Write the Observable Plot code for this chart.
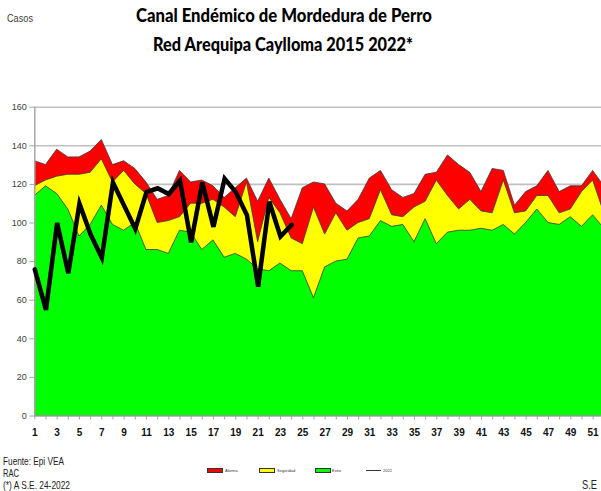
<!DOCTYPE html>
<html>
<head>
<meta charset="utf-8">
<script src="https://cdn.jsdelivr.net/npm/d3@7"></script>
<script src="https://cdn.jsdelivr.net/npm/@observablehq/plot@0.6"></script>
<style>
  html, body { margin: 0; padding: 0; background: #fff; }
  #root { position: relative; width: 601px; height: 491px; overflow: hidden; background: #fff; }
  .txt { position: absolute; white-space: nowrap; display: inline-block; line-height: 1; transform-origin: 0 0; }
  .ttl { font-family: Lato, "Open Sans", sans-serif; font-weight: 900; font-size: 19px; color: #000; }
  .small { font-family: "Liberation Sans", Arial, sans-serif; color: #222; }
  .sw { position: absolute; width: 14px; height: 3px; border: 1px solid #333; }
  .lg { position: absolute; font-family: "Liberation Sans", Arial, sans-serif; font-size: 4px; color: #333; line-height: 1; white-space: nowrap; }
  #chart { position: absolute; left: 0; top: 58px; }
</style>
</head>
<body>
<div id="root">
  <span class="txt small" id="casos" style="font-size:10.5px;color:#404040;">Casos</span>
  <span class="txt ttl" id="t1">Canal Endémico de Mordedura de Perro</span>
  <span class="txt ttl" id="t2">Red Arequipa Caylloma 2015 2022*</span>
  <div id="chart"></div>
  <span class="txt small" id="f1" style="font-size:11px;">Fuente: Epi VEA</span>
  <span class="txt small" id="f2" style="font-size:11px;">RAC</span>
  <span class="txt small" id="f3" style="font-size:11px;">(*) A S.E. 24-2022</span>
  <span class="txt small" id="se" style="font-size:12px;">S.E</span>
  <div class="sw" style="left:207px;top:468px;background:#ff0000;"></div>
  <span class="lg" style="left:225px;top:468.5px;">Alarma</span>
  <div class="sw" style="left:259px;top:468px;background:#ffff00;"></div>
  <span class="lg" style="left:277px;top:468.5px;">Seguridad</span>
  <div class="sw" style="left:315px;top:468px;background:#00ff00;"></div>
  <span class="lg" style="left:332px;top:468.5px;">Exito</span>
  <div style="position:absolute;left:366px;top:469.5px;width:15px;height:1.5px;background:#333;"></div>
  <span class="lg" style="left:383px;top:468.5px;">2022</span>
</div>
<script>
// ---- data (semana epidemiológica) ----
const weeks = [1,2,3,4,5,6,7,8,9,10,11,12,13,14,15,16,17,18,19,20,21,22,23,24,25,26,
               27,28,29,30,31,32,33,34,35,36,37,38,39,40,41,42,43,44,45,46,47,48,49,50,51,52];
// upper limit of each zone (cumulative)
const alarma = [132,130,138,134,134,137,143,130,132,128,121,112,114,127,121,122,119,113,118,123,111,123,112,102,118,121,
                120,110,106,112,123,127,117,113,115,125,126,135,130,126,116,128,127,109,116,119,127,116,119,119,127,119];
const seguridad = [119,122,124,125,125,126,133,121,127,120,115,100,101,103,110,110,112,108,103,121,90,113,105,92,89,108,
                   94,105,96,100,102,117,104,103,108,111,122,114,107,112,106,105,122,105,106,114,114,105,107,116,122,105];
const exito = [114,119,115,107,93,99,109,99,96,100,86,86,84,96,95,86,91,82,84,81,76,75,79,75,75,61,
               77,80,81,92,93,101,98,99,90,102,89,95,96,96,97,96,99,94,100,107,100,99,103,98,104,97];
// 2022 cases, weeks 1-24
const weeks2022 = [1,2,3,4,5,6,7,8,9,10,11,12,13,14,15,16,17,18,19,20,21,22,23,24];
const casos2022 = [76,55,100,74,110,94,82,121,109,97,116,118,115,122,90,121,98,123,116,104,67,111,93,99];
// axis ticks
const yTicks = [0,20,40,60,80,100,120,140,160];
const xTicks = [1,2,3,4,5,6,7,8,9,10,11,12,13,14,15,16,17,18,19,20,21,22,23,24,25,26,
                27,28,29,30,31,32,33,34,35,36,37,38,39,40,41,42,43,44,45,46,47,48,49,50,51];
const xLabels = [1,3,5,7,9,11,13,15,17,19,21,23,25,27,29,31,33,35,37,39,41,43,45,47,49,51];

const rows = weeks.map((w, i) => ({week: w, alarma: alarma[i], seguridad: seguridad[i], exito: exito[i]}));
const rows2022 = weeks2022.map((w, i) => ({week: w, casos: casos2022[i]}));

const outline = "#3a3a3a";
const chart = Plot.plot({
  width: 601,
  height: 392,
  marginTop: 48.7,
  marginBottom: 34.5,
  marginLeft: 34.3,
  marginRight: 0,
  x: {domain: [1, 51.75]},
  y: {domain: [0, 160]},
  style: {background: "transparent", fontFamily: "'Liberation Sans', Arial, sans-serif", overflow: "visible"},
  marks: [
    Plot.gridY(yTicks.filter(d => d > 0), {stroke: "#c0c0c0", strokeWidth: 1.6, strokeOpacity: 1}),
    Plot.areaY(rows, {x: "week", y1: 0, y2: "alarma", fill: "#ff0000", stroke: outline, strokeWidth: 0.8, clip: true}),
    Plot.areaY(rows, {x: "week", y1: 0, y2: "seguridad", fill: "#ffff00", stroke: outline, strokeWidth: 0.8, clip: true}),
    Plot.areaY(rows, {x: "week", y1: 0, y2: "exito", fill: "#00ff00", stroke: outline, strokeWidth: 0.8, clip: true}),
    Plot.ruleY([0], {stroke: "#a6a6a6", strokeWidth: 1.5}),
    Plot.ruleX([1], {stroke: "#a6a6a6", strokeWidth: 1.5}),
    Plot.line(rows2022, {x: "week", y: "casos", stroke: "#000", strokeWidth: 4.5, strokeLinejoin: "miter", strokeMiterlimit: 4}),
    Plot.axisY({ticks: yTicks, tickSize: 5, tickPadding: 3, fontSize: 9, stroke: "#a6a6a6", fill: "#404040", label: null}),
    Plot.axisX({ticks: xTicks, tickFormat: d => xLabels.includes(d) ? String(d) : "", tickSize: 4, tickPadding: 9,
                fontSize: 10, fontWeight: "bold", stroke: "#a6a6a6", fill: "#111", label: null})
  ]
});
document.getElementById("chart").appendChild(chart);

// place + fit texts (left, top, target width)
function place(id, left, top, targetW, center) {
  const el = document.getElementById(id);
  const w = el.getBoundingClientRect().width;
  el.style.transform = `scaleX(${targetW / w})`;
  el.style.left = (center ? left - targetW / 2 : left) + "px";
  el.style.top = top + "px";
}
place("t1", 284, 4.5, 296, true);
place("t2", 283, 33.5, 260, true);
place("casos", 7, 12.5, 26, false);
place("f1", 3, 456, 61, false);
place("f2", 3, 468, 16, false);
place("f3", 3, 480, 67, false);
place("se", 582, 478.5, 15, false);
</script>
</body>
</html>
